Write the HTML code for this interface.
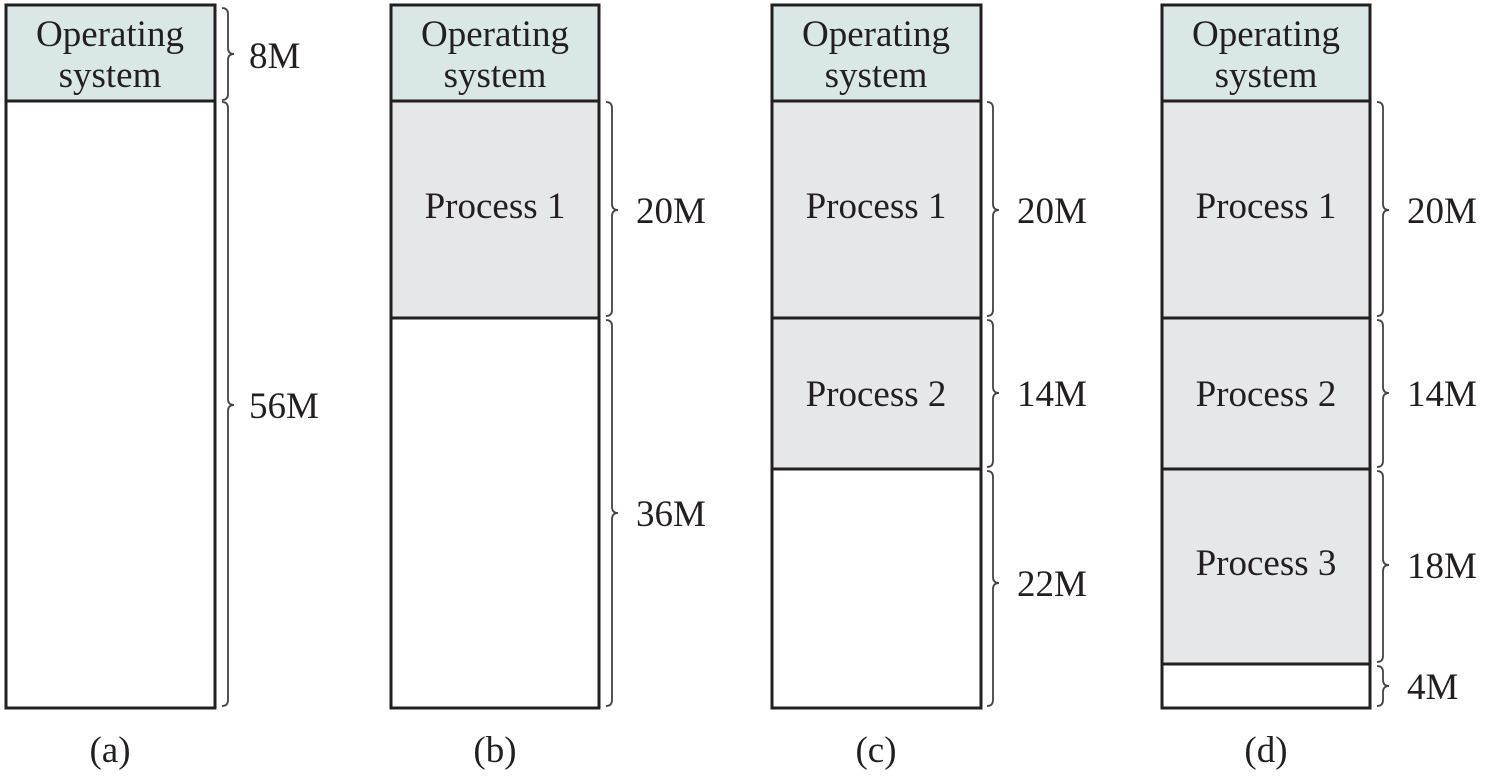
<!DOCTYPE html>
<html><head><style>body{margin:0;background:#fff}svg{display:block}</style></head>
<body>
<svg width="1498" height="778" viewBox="0 0 1498 778" xmlns="http://www.w3.org/2000/svg" font-family="Liberation Serif, serif" font-size="37" fill="#231f20">
<g stroke="#231f20" stroke-width="3">
<rect x="6" y="5" width="209" height="96" fill="#d9e8e6"/>
<rect x="6" y="101" width="209" height="607" fill="#fff"/>
<rect x="391" y="5" width="208" height="96" fill="#d9e8e6"/>
<rect x="391" y="101" width="208" height="217" fill="#e6e7e9"/>
<rect x="391" y="318" width="208" height="390" fill="#fff"/>
<rect x="772" y="5" width="209" height="96" fill="#d9e8e6"/>
<rect x="772" y="101" width="209" height="217" fill="#e6e7e9"/>
<rect x="772" y="318" width="209" height="151" fill="#e6e7e9"/>
<rect x="772" y="469" width="209" height="239" fill="#fff"/>
<rect x="1162" y="5" width="208" height="96" fill="#d9e8e6"/>
<rect x="1162" y="101" width="208" height="217" fill="#e6e7e9"/>
<rect x="1162" y="318" width="208" height="151" fill="#e6e7e9"/>
<rect x="1162" y="469" width="208" height="195" fill="#e6e7e9"/>
<rect x="1162" y="664" width="208" height="44" fill="#fff"/>
</g>
<g fill="none" stroke="#444" stroke-width="1.8">
<path d="M222 8 q6 0 6 6 V48 q0 6 6 6 q-6 0 -6 6 V94 q0 6 -6 6"/>
<path d="M222 102 q6 0 6 6 V399 q0 6 6 6 q-6 0 -6 6 V700 q0 6 -6 6"/>
<path d="M606 102 q6 0 6 6 V204 q0 6 6 6 q-6 0 -6 6 V310 q0 6 -6 6"/>
<path d="M606 320 q6 0 6 6 V507 q0 6 6 6 q-6 0 -6 6 V700 q0 6 -6 6"/>
<path d="M987 102 q6 0 6 6 V204 q0 6 6 6 q-6 0 -6 6 V310 q0 6 -6 6"/>
<path d="M987 320 q6 0 6 6 V387 q0 6 6 6 q-6 0 -6 6 V461 q0 6 -6 6"/>
<path d="M987 471 q6 0 6 6 V577 q0 6 6 6 q-6 0 -6 6 V700 q0 6 -6 6"/>
<path d="M1377 102 q6 0 6 6 V204 q0 6 6 6 q-6 0 -6 6 V310 q0 6 -6 6"/>
<path d="M1377 320 q6 0 6 6 V387 q0 6 6 6 q-6 0 -6 6 V461 q0 6 -6 6"/>
<path d="M1377 471 q6 0 6 6 V559 q0 6 6 6 q-6 0 -6 6 V656 q0 6 -6 6"/>
<path d="M1377 666 q6 0 6 6 V680 q0 6 6 6 q-6 0 -6 6 V700 q0 6 -6 6"/>
</g>
<g text-anchor="middle" font-size="37">
<text x="110" y="46">Operating</text><text x="110" y="87">system</text>
<text x="495" y="46">Operating</text><text x="495" y="87">system</text>
<text x="876" y="46">Operating</text><text x="876" y="87">system</text>
<text x="1266" y="46">Operating</text><text x="1266" y="87">system</text>
</g>
<g text-anchor="middle">
<text x="495" y="218">Process 1</text>
<text x="876" y="218">Process 1</text>
<text x="876" y="406">Process 2</text>
<text x="1266" y="218">Process 1</text>
<text x="1266" y="406">Process 2</text>
<text x="1266" y="575">Process 3</text>
<text x="110" y="762">(a)</text>
<text x="495" y="762">(b)</text>
<text x="876" y="762">(c)</text>
<text x="1266" y="762">(d)</text>
</g>
<g>
<text x="249" y="68">8M</text>
<text x="249" y="418">56M</text>
<text x="636" y="223">20M</text>
<text x="636" y="526">36M</text>
<text x="1017" y="223">20M</text>
<text x="1017" y="406">14M</text>
<text x="1017" y="596">22M</text>
<text x="1407" y="223">20M</text>
<text x="1407" y="406">14M</text>
<text x="1407" y="578">18M</text>
<text x="1407" y="699">4M</text>
</g>
</svg>
</body></html>
